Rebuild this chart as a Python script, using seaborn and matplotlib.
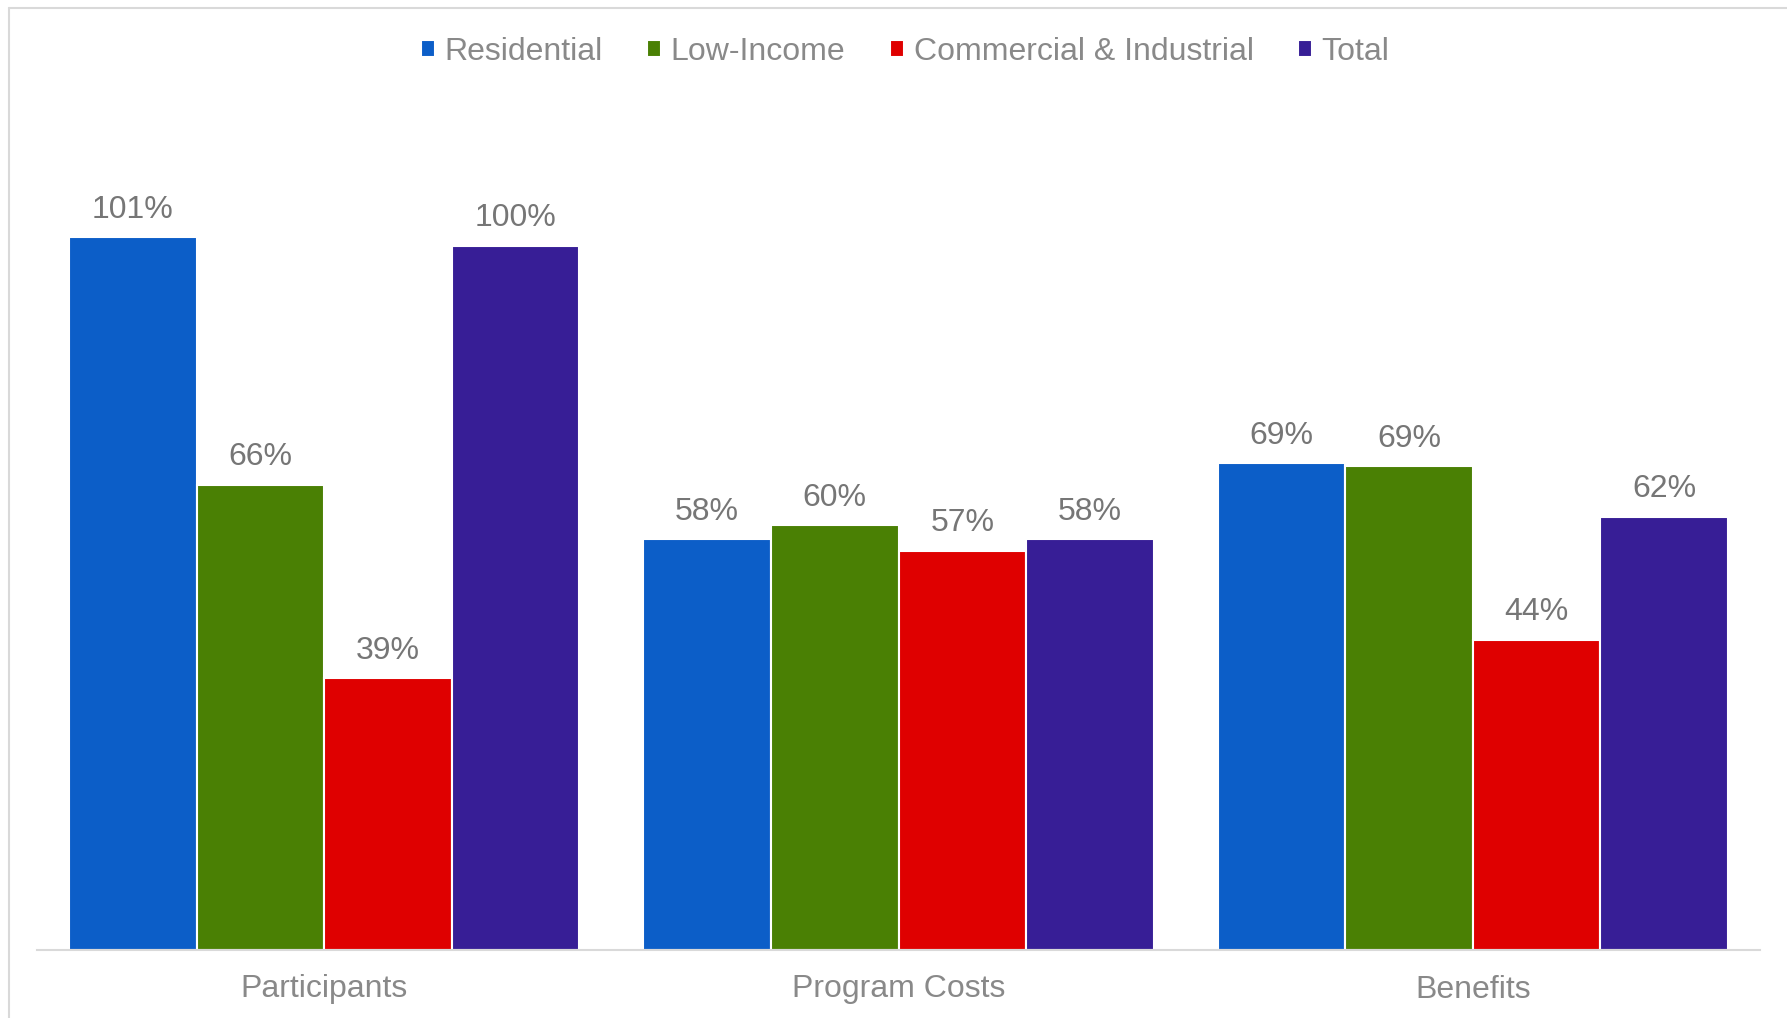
import matplotlib.pyplot as plt
import seaborn as sns
import pandas as pd
from matplotlib.lines import Line2D

# ========================
# Data
# ========================
metrics = ["Participants", "Program Costs", "Benefits"]
series = ["Residential", "Low-Income", "Commercial & Industrial", "Total"]

residential = [101.4, 58.4, 69.2]
low_income = [66.2, 60.4, 68.8]
commercial = [38.6, 56.8, 44.1]
total = [100.2, 58.4, 61.6]

colors = ["#0C5EC8", "#4A8004", "#DF0000", "#371E96"]

rows = []
for name, vals in zip(series, [residential, low_income, commercial, total]):
    for m, v in zip(metrics, vals):
        rows.append({"metric": m, "series": name, "value": v})
df = pd.DataFrame(rows)

# ========================
# Figure
# ========================
sns.set_style("white")
plt.rcParams["font.family"] = ["Liberation Sans", "DejaVu Sans"]

W, H = 1787, 1018
fig = plt.figure(figsize=(W / 100, H / 100), dpi=100)
ax = fig.add_axes([37 / W, (H - 949.5) / H, 1723 / W, 840 / H])

sns.barplot(
    data=df, x="metric", y="value", hue="series", order=metrics,
    hue_order=series, palette=colors, saturation=1, width=0.889,
    edgecolor="white", linewidth=1.5, ax=ax, legend=True,
)

ax.set_ylim(0, 119.6)
ax.set_xlim(-0.5, 2.5)
ax.set_xlabel("")
ax.set_ylabel("")
ax.set_yticks([])

for s in ["top", "right", "left"]:
    ax.spines[s].set_visible(False)
ax.spines["bottom"].set_color("#D9D9D9")
ax.spines["bottom"].set_linewidth(1.5)

ax.tick_params(axis="x", length=0, pad=18, labelsize=23, labelcolor="#898989")

for cont in ax.containers:
    labels = [f"{round(b.get_height())}%" for b in cont]
    ax.bar_label(cont, labels=labels, padding=9, fontsize=23, color="#767676")

handles, labels = ax.get_legend_handles_labels()
ax.legend_.remove()
fig.legend(
    handles, labels, loc="center", bbox_to_anchor=(905 / W, (H - 52) / H),
    ncol=4, frameon=False, fontsize=23, labelcolor="#898989",
    handlelength=0.45, handleheight=0.45, handletextpad=0.3, columnspacing=1.38,
)

# light outer frame (top and left edges visible)
fig.add_artist(Line2D([9 / W, 1.0], [(H - 8) / H, (H - 8) / H],
                      transform=fig.transFigure, color="#D9D9D9", lw=1.5))
fig.add_artist(Line2D([9 / W, 9 / W], [0, (H - 8) / H],
                      transform=fig.transFigure, color="#D9D9D9", lw=1.5))

plt.savefig("out.png", dpi=100)
plt.close()
